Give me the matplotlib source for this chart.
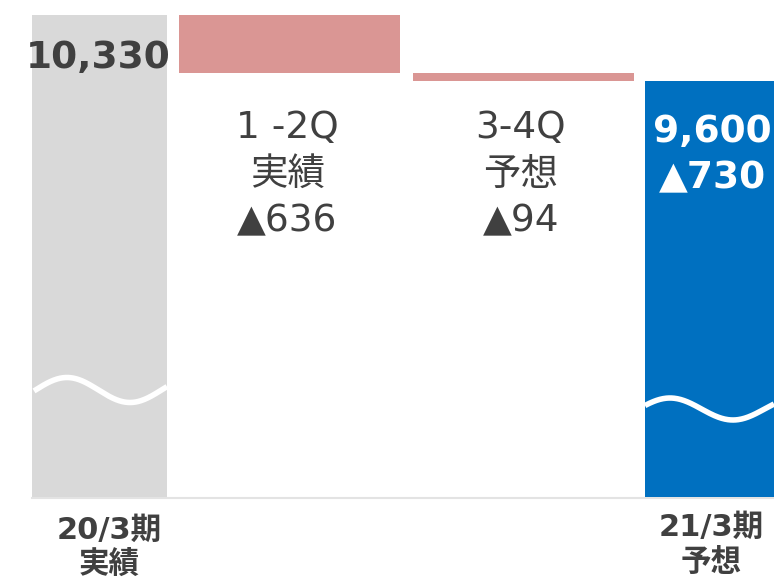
import numpy as np
import matplotlib
matplotlib.use("Agg")
import matplotlib.pyplot as plt

plt.rcParams['font.family'] = ['DejaVu Sans', 'Noto Sans CJK JP']

# data
start_value = 10330
deltas = [-636, -94]
end_value = 9600
base_value = 5000          # axis is broken, bars start here
delta_names = ['1 -2Q\n実績', '3-4Q\n予想']
total_names = ['20/3期\n実績', '21/3期\n予想']

# layout (pixels of a 774x581 canvas)
W, H = 774, 581
top_val = 10496            # value at the top edge
k = 11.06                  # value units per pixel
bar_left = [32, 179, 412.5, 645]
bar_width = [135, 221, 221, 135]
grey, red, blue = '#d9d9d9', '#da9694', '#0070c0'
ink = '#404040'


def val(py):
    return top_val - py * k


fig = plt.figure(figsize=(W / 100, H / 100), dpi=100)
ax = fig.add_axes([0, 0, 1, 1])
ax.set_xlim(0, W)
ax.set_ylim(val(H), val(0))
ax.axis('off')

# baseline
ax.plot([bar_left[0], W], [base_value - 0.8 * k] * 2, color='#e3e3e3', lw=1.5, zorder=1)

# totals
ax.bar(bar_left[0], start_value - base_value, bottom=base_value, width=bar_width[0],
       align='edge', color=grey, zorder=2)
ax.bar(bar_left[3], end_value - base_value, bottom=base_value, width=bar_width[3],
       align='edge', color=blue, zorder=2)

# floating deltas
level = start_value
for i, d in enumerate(deltas):
    ax.bar(bar_left[i + 1], -d, bottom=level + d, width=bar_width[i + 1],
           align='edge', color=red, zorder=2)
    level += d

# break waves
xs = np.linspace(bar_left[0] + 2, bar_left[0] + bar_width[0], 200)
ax.plot(xs, val(390 - 12.5 * np.cos(2 * np.pi * (xs - 67) / 126)),
        color='white', lw=4, zorder=3, solid_capstyle='butt')
xs = np.linspace(bar_left[3], W, 200)
ax.plot(xs, val(409 - 11 * np.cos(2 * np.pi * (xs - 670) / 126)),
        color='white', lw=4, zorder=3, solid_capstyle='butt')

# total labels
ax.text(bar_left[0] + bar_width[0] / 2 - 1, val(68), f'{start_value:,}', ha='center',
        va='baseline', fontsize=27, fontweight='bold', color=ink, zorder=4)
ax.text(712, val(142), f'{end_value:,}', ha='center', va='baseline', fontsize=27,
        fontweight='bold', color='white', zorder=4)
ax.text(712, val(188), f'▲{start_value - end_value}', ha='center', va='baseline',
        fontsize=27, fontweight='bold', color='white', zorder=4)

# delta labels
for i, (name, d) in enumerate(zip(delta_names, deltas)):
    cx = bar_left[i + 1] + bar_width[i + 1] / 2
    lines = name.split('\n') + [f'▲{-d}']
    for j, line in enumerate(lines):
        ax.text(cx - 2, val(137.5 + 47 * j), line, ha='center', va='baseline',
                fontsize=27, color=ink, zorder=4)

# category labels
for cx, name, b in [(109, total_names[0], 539), (711, total_names[1], 536)]:
    l1, l2 = name.split('\n')
    ax.text(cx, val(b), l1, ha='center', va='baseline', fontsize=22,
            fontweight='bold', color=ink)
    ax.text(cx, val(b + 35), l2, ha='center', va='baseline', fontsize=22,
            fontweight='bold', color=ink)

fig.savefig('out.png', dpi=100)
